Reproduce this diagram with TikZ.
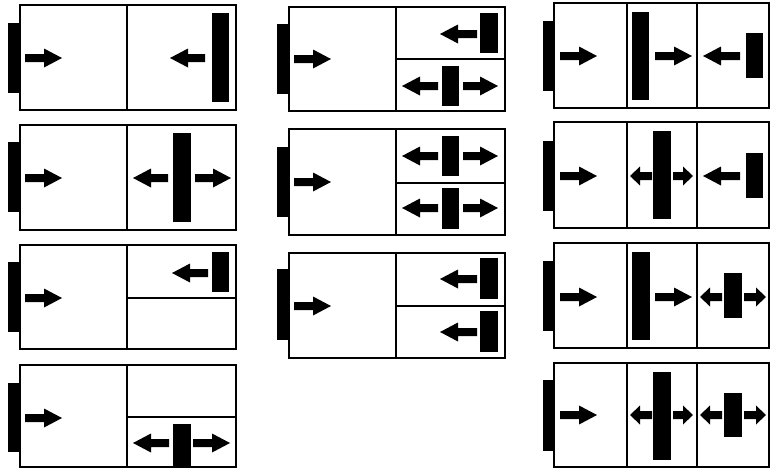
\documentclass[tikz,border=0pt]{standalone}
\tikzset{
  frame/.style={draw=black, line width=1.4pt},
  plate/.style={fill=black},
  arrowfill/.style={fill=black},
}
% right-pointing arrow: tail x, tip x, y, head length
\newcommand\arrR[4]{\fill[arrowfill] ({#1},{#3-4}) -- ({#2-#4},{#3-4}) -- ({#2-#4},{#3-9.5}) -- ({#2},{#3}) -- ({#2-#4},{#3+9.5}) -- ({#2-#4},{#3+4}) -- ({#1},{#3+4}) -- cycle;}
% left-pointing arrow: tail x, tip x, y, head length
\newcommand\arrL[4]{\fill[arrowfill] ({#1},{#3-4}) -- ({#2+#4},{#3-4}) -- ({#2+#4},{#3-9.5}) -- ({#2},{#3}) -- ({#2+#4},{#3+9.5}) -- ({#2+#4},{#3+4}) -- ({#1},{#3+4}) -- cycle;}
\begin{document}
\begin{tikzpicture}[x=1pt,y=-1pt]
\useasboundingbox (0,0) rectangle (777,469);
% ---------- column 1 ----------
% panel 1
\fill[plate] (8,23) rectangle (20,93);
\arrR{25}{62}{58}{18}
\draw[frame] (20,5) rectangle (236,110) (127,5) -- (127,110);
\fill[plate] (212,13) rectangle (229,102);
\arrL{205}{170}{58}{18}
% panel 2
\fill[plate] (8,142) rectangle (20,212);
\arrR{25}{62}{178}{18}
\draw[frame] (20,125) rectangle (236,230) (127,125) -- (127,230);
\fill[plate] (173,133) rectangle (191,222);
\arrL{168}{133}{178}{18}
\arrR{195}{231}{178}{18}
% panel 3
\fill[plate] (8,262) rectangle (20,332);
\arrR{25}{62}{298}{18}
\draw[frame] (20,245) rectangle (236,349) (127,245) -- (127,349) (127,298) -- (236,298);
\fill[plate] (212,252) rectangle (229,292);
\arrL{208}{172}{273}{18}
% panel 4
\fill[plate] (8,383) rectangle (20,452);
\arrR{25}{62}{418}{18}
\draw[frame] (20,365) rectangle (236,467) (127,365) -- (127,467) (127,417) -- (236,417);
\fill[plate] (173,424) rectangle (191,467);
\arrL{169}{133}{443}{18}
\arrR{193}{230}{443}{18}
% ---------- column 2 ----------
% panel 1
\fill[plate] (277,24) rectangle (289,94);
\arrR{294}{331}{59}{18}
\draw[frame] (289,7) rectangle (505,111) (396,7) -- (396,111) (396,59) -- (505,59);
\fill[plate] (480,13) rectangle (498,53);
\arrL{477}{440}{34}{18}
\fill[plate] (442,66) rectangle (459,106);
\arrL{438}{402}{86}{18}
\arrR{463}{498}{86}{18}
% panel 2
\fill[plate] (277,147) rectangle (289,217);
\arrR{294}{331}{182}{18}
\draw[frame] (289,129) rectangle (505,235) (396,129) -- (396,235) (396,183) -- (505,183);
\fill[plate] (442,136) rectangle (459,176);
\arrL{438}{402}{156}{18}
\arrR{463}{498}{156}{18}
\fill[plate] (442,188) rectangle (459,229);
\arrL{438}{402}{208}{18}
\arrR{463}{498}{208}{18}
% panel 3
\fill[plate] (277,269) rectangle (289,340);
\arrR{294}{331}{306}{18}
\draw[frame] (289,253) rectangle (505,358) (396,253) -- (396,358) (396,306) -- (505,306);
\fill[plate] (480,258) rectangle (498,299);
\arrL{477}{440}{279}{18}
\fill[plate] (480,311) rectangle (498,352);
\arrL{477}{440}{332}{18}
% ---------- column 3 ----------
% panel 1
\fill[plate] (543,21) rectangle (554,91);
\arrR{560}{597}{56}{18}
\draw[frame] (554,3) rectangle (769,108) (627,3) -- (627,108) (697,3) -- (697,108);
\fill[plate] (632,12) rectangle (649,100);
\arrR{655}{692}{56}{18}
\fill[plate] (746,33) rectangle (763,78);
\arrL{740}{703}{56}{18}
% panel 2
\fill[plate] (543,141) rectangle (554,211);
\arrR{560}{597}{176}{18}
\draw[frame] (554,122) rectangle (769,228) (627,122) -- (627,228) (697,122) -- (697,228);
\fill[plate] (653,131) rectangle (671,219);
\arrL{652}{630}{176}{10}
\arrR{673}{693}{176}{10}
\fill[plate] (746,153) rectangle (763,198);
\arrL{740}{703}{176}{18}
% panel 3
\fill[plate] (543,261) rectangle (554,331);
\arrR{560}{597}{297}{18}
\draw[frame] (554,243) rectangle (769,348) (627,243) -- (627,348) (697,243) -- (697,348);
\fill[plate] (632,252) rectangle (650,340);
\arrR{655}{692}{297}{18}
\fill[plate] (724,273) rectangle (742,318);
\arrL{722}{700}{297}{10}
\arrR{744}{766}{297}{10}
% panel 4
\fill[plate] (543,380) rectangle (554,451);
\arrR{560}{597}{415}{18}
\draw[frame] (554,363) rectangle (769,467) (627,363) -- (627,467) (697,363) -- (697,467);
\fill[plate] (653,372) rectangle (671,460);
\arrL{652}{630}{415}{10}
\arrR{673}{693}{415}{10}
\fill[plate] (724,393) rectangle (742,437);
\arrL{722}{700}{415}{10}
\arrR{744}{766}{415}{10}
\end{tikzpicture}
\end{document}
